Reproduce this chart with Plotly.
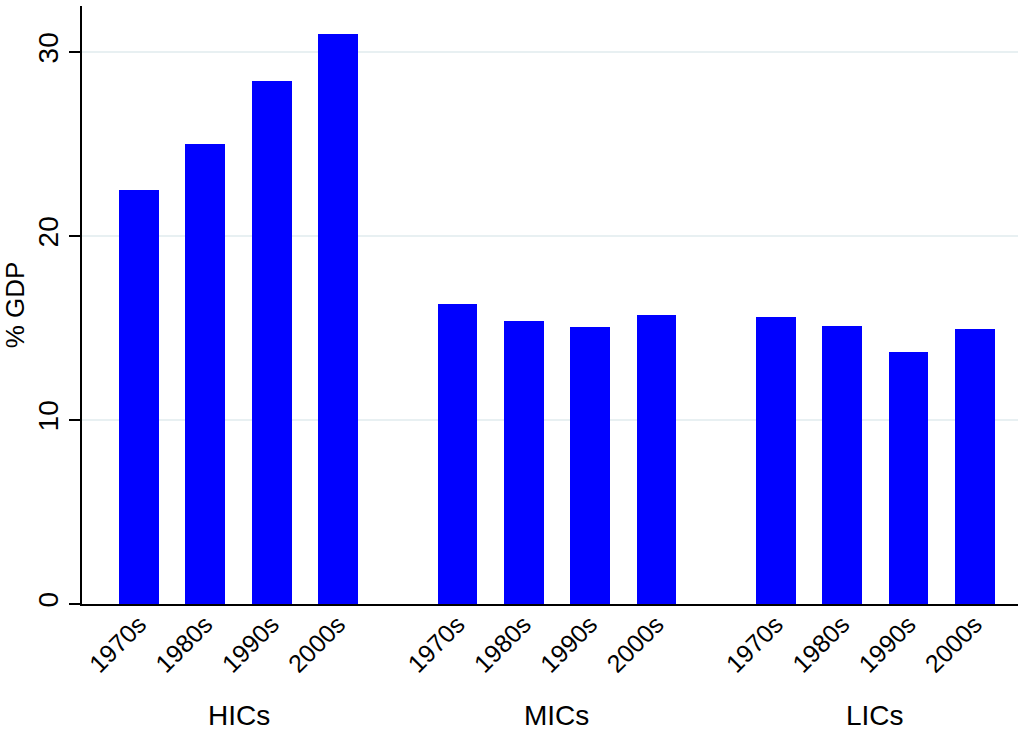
import plotly.graph_objects as go

groups = ["HICs", "MICs", "LICs"]
decades = ["1970s", "1980s", "1990s", "2000s"]
hics = [22.5, 25.0, 28.45, 31.0]
mics = [16.3, 15.4, 15.08, 15.7]
lics = [15.6, 15.12, 13.68, 14.95]
values = [hics, mics, lics]

GROUP_STEP = 4.8  # spacing between groups (layout)

xs, ys, labels = [], [], []
for gi, vals in enumerate(values):
    for di, v in enumerate(vals):
        xs.append(gi * GROUP_STEP + di)
        ys.append(v)
        labels.append(decades[di])

FONT = "Liberation Sans, Arial, Helvetica, sans-serif"

fig = go.Figure()
fig.add_trace(go.Bar(
    x=xs, y=ys, width=0.6,
    marker=dict(color="#0000ff", line=dict(width=0)),
    showlegend=False,
))

for gi, g in enumerate(groups):
    fig.add_annotation(
        x=gi * GROUP_STEP + 1.5, y=-0.186, xref="x", yref="paper",
        text=g, showarrow=False, xanchor="center", yanchor="middle",
        font=dict(family=FONT, size=28, color="black"),
    )

fig.update_layout(
    width=1020, height=734,
    margin=dict(l=82, r=2, t=6, b=130),
    plot_bgcolor="white", paper_bgcolor="white",
    font=dict(family=FONT, color="black"),
    bargap=0,
)
fig.update_xaxes(
    range=[-0.86, 13.25],
    tickmode="array", tickvals=xs, ticktext=labels,
    tickangle=-45, ticks="", showgrid=False, zeroline=False,
    showline=True, linecolor="black", linewidth=1.5,
    tickfont=dict(family=FONT, size=25, color="black"),
    ticklabelstandoff=-6,
)
fig.update_yaxes(
    range=[0, 32.5],
    tickmode="array", tickvals=[0, 10, 20, 30], ticktext=["0", "10", "20", "30"],
    tickangle=-90, ticks="outside", ticklen=11, tickwidth=1.5, tickcolor="black",
    showgrid=True, gridcolor="#e8f0f2", gridwidth=1.5,
    zeroline=False, showline=True, linecolor="black", linewidth=1.5,
    tickfont=dict(family=FONT, size=28, color="black"),
    ticklabelstandoff=0,
    title=dict(text="% GDP", font=dict(family=FONT, size=26, color="black"), standoff=2),
)

fig.write_html("out.html", config={"displayModeBar": False},
               post_script="document.body.style.margin='0';document.body.style.padding='0';")
